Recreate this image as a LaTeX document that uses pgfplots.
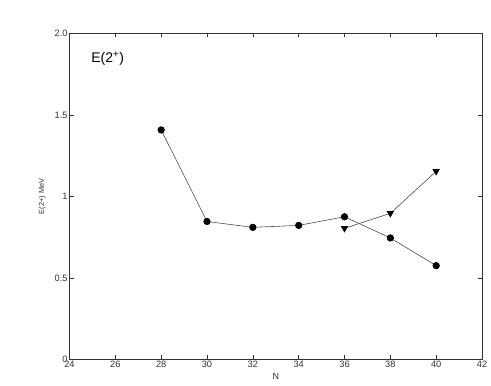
\documentclass[border=0pt]{standalone}
\usepackage{fontspec}
\setmainfont{Liberation Sans}
\usepackage{pgfplots}
\pgfplotsset{compat=1.18}

\begin{document}
\begin{tikzpicture}
\begin{axis}[
    anchor=south west, at={(0,0)},
    scale only axis,
    width=412.5bp, height=325.8bp,
    xmin=24, xmax=42, ymin=0, ymax=2,
    xtick={24,26,...,42},
    ytick={0,0.5,1,1.5,2},
    yticklabels={0,0.5,1,1.5,2.0},
    tick align=inside,
    major tick length=4bp,
    tick style={black!80, line width=0.5pt},
    axis line style={black!80, line width=0.8pt},
    /pgf/number format/assume math mode=true,
    tick label style={font=\fontsize{9.3}{11}\selectfont, text=black!80},
    xticklabel style={yshift=1.5bp},
    yticklabel style={xshift=1.5bp},
    xlabel={N},
    ylabel={E(2+) MeV},
    xlabel style={font=\fontsize{9}{10}\selectfont, text=black!80, yshift=1bp},
    ylabel style={font=\fontsize{7.5}{8}\selectfont, text=black!80, yshift=2bp},
    clip=false,
]
\addplot[black!70, line width=0.6pt, mark=*, mark size=3.3bp,
         mark options={black, fill=black}]
    coordinates {
        (28,1.408)(30,0.846)(32,0.810)(34,0.822)(36,0.875)(38,0.745)(40,0.575)
    };
\addplot[black!70, line width=0.6pt, mark=triangle*, mark size=3.6bp,
         mark options={black, fill=black, rotate=180}]
    coordinates {
        (36,0.804)(38,0.896)(40,1.154)
    };
\node[anchor=west, font=\fontsize{14}{16}\selectfont] at (axis cs:24.8,1.845) {E(2\textsuperscript{+})};
\end{axis}
\pgfresetboundingbox
\path[use as bounding box] (-69.5bp,-26.7bp) rectangle (421.5bp,359.3bp);
\end{tikzpicture}
\end{document}
